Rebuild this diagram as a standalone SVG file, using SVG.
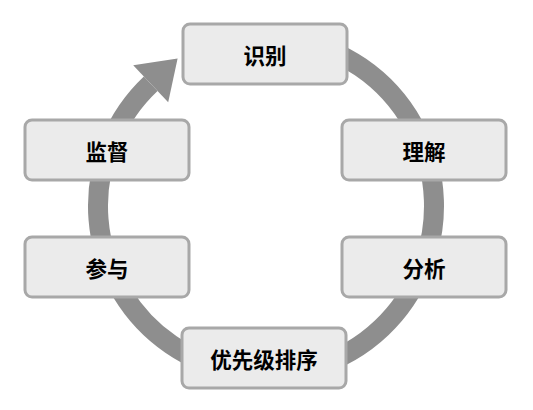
<svg xmlns="http://www.w3.org/2000/svg" width="533" height="410" viewBox="0 0 533 410">
<style>
.node rect{fill:#ebebeb;stroke:#a8a8a8;stroke-width:3}
.node text{font-family:"Noto Sans CJK SC","Noto Sans",sans-serif;font-weight:bold;font-size:21.5px;fill:#000;text-anchor:middle;dominant-baseline:central}
.ring{fill:none;stroke:#8e8e8e;stroke-width:20}
.head{fill:#8e8e8e}
</style>
<rect width="533" height="410" fill="#fff"/>
<g id="connectors">
<path class="ring" d="M 295.2 40.55 A 168 168 0 1 1 150.7 83.8"/>
<polygon class="head" points="133.2,65.25 177.6,58.4 168.2,102.35"/>
</g>
<g id="node-shibie" class="node"><rect x="183" y="24" width="164" height="60" rx="7"/><text x="265" y="54">识别</text></g>
<g id="node-lijie" class="node"><rect x="342" y="120" width="164" height="60" rx="7"/><text x="424" y="150">理解</text></g>
<g id="node-fenxi" class="node"><rect x="342" y="237" width="164" height="60" rx="7"/><text x="424" y="267">分析</text></g>
<g id="node-youxian" class="node"><rect x="182" y="328" width="164" height="60" rx="7"/><text x="264" y="358">优先级排序</text></g>
<g id="node-canyu" class="node"><rect x="25" y="237" width="164" height="60" rx="7"/><text x="107" y="267">参与</text></g>
<g id="node-jiandu" class="node"><rect x="25" y="120" width="164" height="60" rx="7"/><text x="107" y="150">监督</text></g>
</svg>
